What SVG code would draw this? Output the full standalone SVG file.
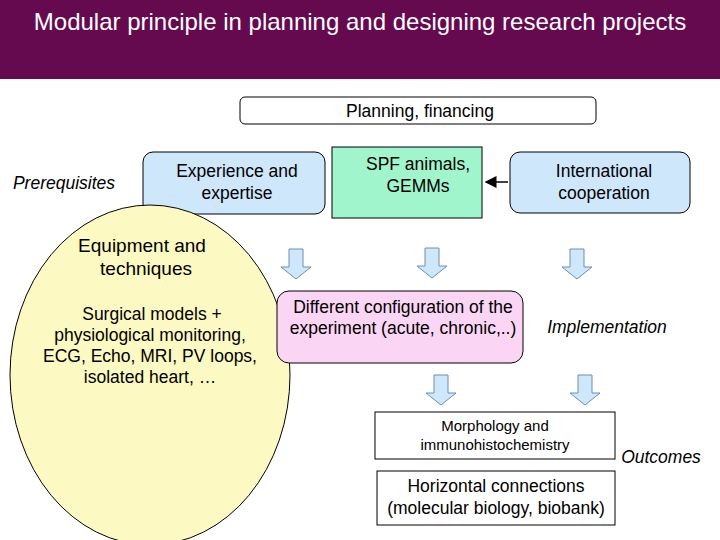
<svg xmlns="http://www.w3.org/2000/svg" width="720" height="540" viewBox="0 0 720 540">
<defs>
<style>
text{font-family:"Liberation Sans",Arial,sans-serif;fill:#000}
.bl{fill:#cfe7fb;stroke:#000;stroke-width:1}
.ba{fill:#cfe7fb;stroke:#6b8fb0;stroke-width:1}
.it{font-style:italic}
</style>
<marker id="ah" markerWidth="8" markerHeight="8" refX="7" refY="4" orient="auto"><path d="M0,0 L8,4 L0,8 z" fill="#000"/></marker>
<path id="dn" d="M-7,0 H7 V18 H15 L0,30 L-15,18 H-7 Z" class="ba"/>
</defs>
<rect x="0" y="0" width="720" height="79" fill="#660a4f"/>
<text x="360" y="30" font-size="24" text-anchor="middle" style="fill:#fff">Modular principle in planning and designing research projects</text>
<g id="planning"><rect x="240" y="97" width="356" height="27" rx="5" fill="#fff" stroke="#000"/>
<text x="420" y="117" font-size="17.5" text-anchor="middle">Planning, financing</text></g>
<g id="prereq"><text x="64" y="189" font-size="17.5" class="it" text-anchor="middle">Prerequisites</text></g>
<g id="experience"><rect x="143" y="152" width="182" height="62" rx="10" class="bl"/>
<text x="237" y="177" font-size="17.5" text-anchor="middle">Experience and</text>
<text x="237" y="199" font-size="17.5" text-anchor="middle">expertise</text></g>
<g id="spf"><rect x="332" y="147" width="150" height="71" fill="#a0f5cc" stroke="#000"/>
<text x="418" y="170" font-size="17.5" text-anchor="middle">SPF animals,</text>
<text x="418" y="192" font-size="17.5" text-anchor="middle">GEMMs</text></g>
<g id="intl"><rect x="510" y="152" width="180" height="61" rx="10" class="bl"/>
<text x="604" y="177" font-size="17.5" text-anchor="middle">International</text>
<text x="604" y="199" font-size="17.5" text-anchor="middle">cooperation</text></g>
<g id="equipment"><ellipse cx="150" cy="375" rx="140" ry="170" fill="#fcf9c2" stroke="#000"/>
<text x="142" y="252" font-size="19" text-anchor="middle">Equipment and</text>
<text x="146" y="275" font-size="19" text-anchor="middle">techniques</text>
<text x="152" y="320" font-size="17.5" text-anchor="middle">Surgical models +</text>
<text x="150" y="341" font-size="17.5" text-anchor="middle">physiological monitoring,</text>
<text x="150" y="362" font-size="17.5" text-anchor="middle">ECG, Echo, MRI, PV loops,</text>
<text x="150" y="383" font-size="17.5" text-anchor="middle">isolated heart, …</text></g>
<g id="config"><rect x="277" y="291" width="246" height="72" rx="12" fill="#fbd6f4" stroke="#000"/>
<text x="403" y="313" font-size="17.5" text-anchor="middle">Different configuration of the</text>
<text x="403" y="334" font-size="17.5" text-anchor="middle">experiment (acute, chronic,..)</text></g>
<g id="impl"><text x="607" y="333" font-size="17.5" class="it" text-anchor="middle">Implementation</text></g>
<g id="morph"><rect x="375" y="412" width="240" height="47" fill="#fff" stroke="#000"/>
<text x="495" y="431" font-size="15" text-anchor="middle">Morphology and</text>
<text x="495" y="450" font-size="15" text-anchor="middle">immunohistochemistry</text></g>
<g id="outcomes"><text x="661" y="463" font-size="17.5" class="it" text-anchor="middle">Outcomes</text></g>
<g id="horiz"><rect x="377" y="471" width="238" height="54" fill="#fff" stroke="#000"/>
<text x="496" y="492" font-size="17.5" text-anchor="middle">Horizontal connections</text>
<text x="496" y="514" font-size="17.5" text-anchor="middle">(molecular biology, biobank)</text></g>
<g id="connectors">
<line x1="508" y1="182" x2="486" y2="182" stroke="#000" stroke-width="1.5" marker-end="url(#ah)"/>
<use href="#dn" x="296" y="249"/>
<use href="#dn" x="432" y="248"/>
<use href="#dn" x="577" y="249"/>
<use href="#dn" x="441" y="375"/>
<use href="#dn" x="585" y="375"/>
</g>
</svg>
